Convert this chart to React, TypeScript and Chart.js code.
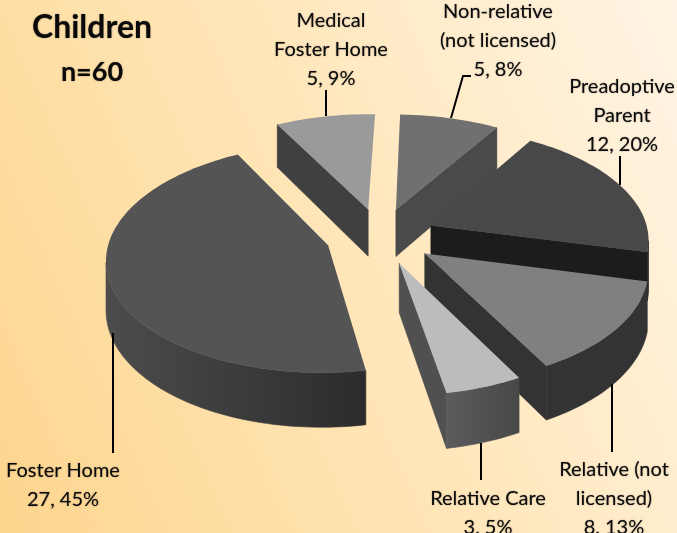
import React, { useEffect, useRef } from "react";
import { Chart, registerables } from "chart.js";

Chart.register(...registerables);

const categories = ["Foster Home", "Medical Foster Home", "Non-relative (not licensed)", "Preadoptive Parent", "Relative (not licensed)", "Relative Care"];
const counts = [27, 5, 5, 12, 8, 3];
const topColors = ["#545454", "#9a9a9a", "#707070", "#484848", "#808080", "#bcbcbc"];
const radialWallColors = ["#333333", "#404040", "#4a4a4a", "#1c1c1c", "#333333", "#505050"];
const arcWallLeft = ["#4c4c4c", "#404040", "#4a4a4a", "#1c1c1c", "#333333", "#5c5c5c"];
const arcWallRight = ["#2c2c2c", "#404040", "#4a4a4a", "#1c1c1c", "#333333", "#484848"];

const titleLines = ["Children", "n=60"];
const labelLines = [
  ["Foster Home", "27, 45%"],
  ["Medical", "Foster Home", "5, 9%"],
  ["Non-relative", "(not licensed)", "5, 8%"],
  ["Preadoptive", "Parent", "12, 20%"],
  ["Relative (not", "licensed)", "8, 13%"],
  ["Relative Care", "3, 5%"],
];
const labelAnchors = [
  [63, 477], [331, 27], [498, 18], [622, 93], [614, 476], [488, 505],
];
const leaders = [
  [[113, 333], [113, 453]],
  [[326, 90], [326, 116]],
  [[451, 118], [463, 76], [471, 76]],
  [[620, 156], [620, 185]],
  [[612, 384], [612, 452]],
  [[481, 443], [481, 480]],
];

const TILT = 0.51;
const PERSPECTIVE = 0.11;
const DEPTH = 48;
const MIN_FACE_WIDTH = 12;
const LINE_HEIGHT = 29;

const pieProjection = {
  id: "pieProjection",
  beforeDatasetsDraw(chart: any) {
    const ctx = chart.ctx as CanvasRenderingContext2D;
    const arcs = chart.getDatasetMeta(0).data as any[];
    const slices = arcs.map((arc, index) => {
      const { x, y, startAngle, endAngle, outerRadius } = arc.getProps(["x", "y", "startAngle", "endAngle", "outerRadius"], true);
      const offset = arc.options.offset || 0;
      const mid = (startAngle + endAngle) / 2;
      const project = (mx: number, my: number) => {
        const f = 1 / (1 - (PERSPECTIVE * my) / outerRadius);
        return { x: x + mx * f, y: y + my * TILT * f, f };
      };
      const ox = Math.cos(mid) * offset;
      const oy = Math.sin(mid) * offset;
      const rim: any[] = [];
      const steps = Math.max(4, Math.round((endAngle - startAngle) * 40));
      for (let i = 0; i <= steps; i++) {
        const a = startAngle + ((endAngle - startAngle) * i) / steps;
        rim.push(project(ox + Math.cos(a) * outerRadius, oy + Math.sin(a) * outerRadius));
      }
      return { index, apex: project(ox, oy), rim, order: Math.sin(mid) };
    });
    slices.sort((a, b) => a.order - b.order);
    const low = (p: any) => ({ x: p.x, y: p.y + DEPTH * p.f });
    const quad = (pts: any[], fill: any) => {
      ctx.beginPath();
      pts.forEach((p, i) => (i ? ctx.lineTo(p.x, p.y) : ctx.moveTo(p.x, p.y)));
      const rev = [...pts].reverse().map(low);
      rev.forEach((p) => ctx.lineTo(p.x, p.y));
      ctx.closePath();
      ctx.fillStyle = fill;
      ctx.strokeStyle = fill;
      ctx.lineWidth = 0.6;
      ctx.fill();
      ctx.stroke();
    };
    ctx.save();
    for (const s of slices) {
      const { index, apex, rim } = s;
      const last = rim[rim.length - 1];
      if (apex.x - rim[0].x > MIN_FACE_WIDTH) quad([apex, rim[0]], radialWallColors[index]);
      if (last.x - apex.x > MIN_FACE_WIDTH) quad([last, apex], radialWallColors[index]);
      let run: any[] = [];
      const flush = () => {
        if (run.length > 1) {
          const xs = run.map((p) => p.x);
          const g = ctx.createLinearGradient(Math.min(...xs), 0, Math.max(...xs), 0);
          g.addColorStop(0, arcWallLeft[index]);
          g.addColorStop(1, arcWallRight[index]);
          quad(run, g);
        }
        run = [];
      };
      for (let i = 0; i < rim.length - 1; i++) {
        if (rim[i + 1].x < rim[i].x) {
          if (!run.length) run.push(rim[i]);
          run.push(rim[i + 1]);
        } else flush();
      }
      flush();
      ctx.beginPath();
      ctx.moveTo(apex.x, apex.y);
      rim.forEach((p: any) => ctx.lineTo(p.x, p.y));
      ctx.closePath();
      ctx.fillStyle = arcs[index].options.backgroundColor;
      ctx.fill();
    }
    ctx.restore();
    return false;
  },
  afterDraw(chart: any) {
    const ctx = chart.ctx as CanvasRenderingContext2D;
    ctx.save();
    ctx.strokeStyle = "#000";
    ctx.lineWidth = 2;
    for (const line of leaders) {
      ctx.beginPath();
      line.forEach(([x, y], i) => (i ? ctx.lineTo(x, y) : ctx.moveTo(x, y)));
      ctx.stroke();
    }
    ctx.textAlign = "center";
    ctx.textBaseline = "alphabetic";
    ctx.fillStyle = "#0a0a0a";
    ctx.shadowColor = "rgba(0,0,0,0.45)";
    ctx.shadowBlur = 1.5;
    ctx.font = "700 32px Lato";
    ctx.fillText(titleLines[0], 92, 38);
    ctx.font = "700 27px Lato";
    ctx.fillText(titleLines[1], 92, 81);
    ctx.font = "400 20px Lato";
    labelLines.forEach((lines, i) => {
      const [x, y] = labelAnchors[i];
      lines.forEach((t, j) => ctx.fillText(t, x, y + j * LINE_HEIGHT));
    });
    ctx.restore();
  },
};

export default function App() {
  const ref = useRef<HTMLCanvasElement>(null);
  useEffect(() => {
    const chart = new Chart(ref.current!, {
      type: "pie",
      data: {
        labels: categories,
        datasets: [{ data: counts, backgroundColor: topColors, borderWidth: 0, offset: 55 }],
      },
      options: {
        animation: false,
        responsive: false,
        rotation: 169.7,
        radius: 218,
        layout: { padding: { left: 84, bottom: 61 } },
        plugins: { legend: { display: false }, tooltip: { enabled: false } },
        events: [],
      },
      plugins: [pieProjection],
    } as any);
    return () => chart.destroy();
  }, []);
  return (
    <div
      style={{
        position: "absolute",
        left: 0,
        top: 0,
        width: 677,
        height: 533,
        overflow: "hidden",
        background: "linear-gradient(66deg, #fdd58e 0%, #ffe6b8 50%, #fff4e4 100%)",
      }}
    >
      <canvas ref={ref} width={677} height={533} style={{ display: "block" }} />
    </div>
  );
}
